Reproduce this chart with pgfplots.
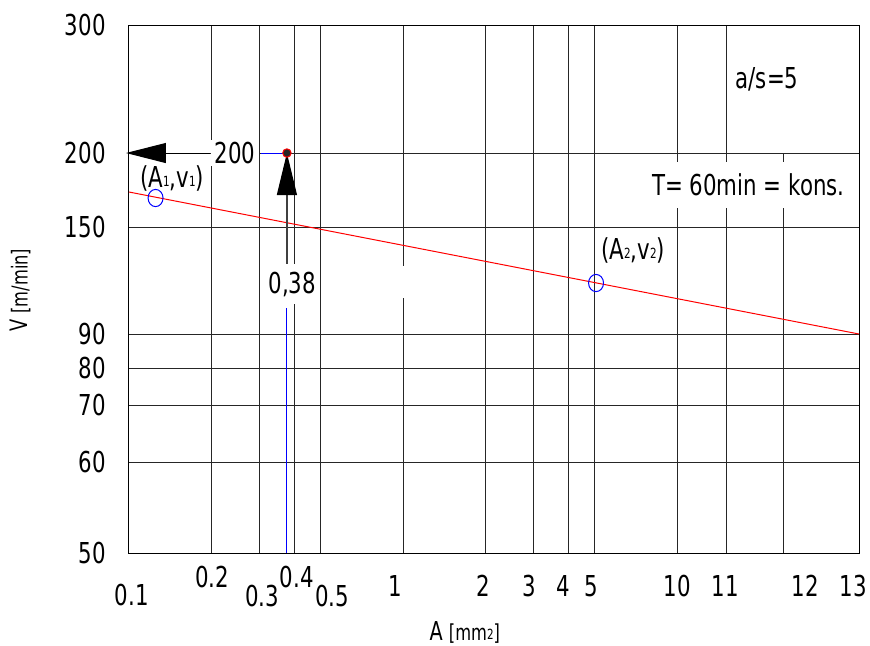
\documentclass[border=0pt]{standalone}
\usepackage{fontspec}
\setmainfont{DejaVu Sans}[FakeStretch=0.74]
\usepackage{pgfplots}
\pgfplotsset{compat=1.18}
\usetikzlibrary{arrows.meta}

\newcommand{\sub}[1]{\raisebox{0.5pt}{\fontsize{7}{8}\selectfont #1}}

% y runs in drawing units of the nomogram (its v scale is not regular)
\begin{document}
\begin{tikzpicture}[font=\fontsize{14.4}{16}\selectfont]
\begin{axis}[
  at={(64.5pt,-276.5pt)}, anchor=south west,
  scale only axis, width=365pt, height=264pt,
  xmode=log, xmin=0.1, xmax=46.1,
  ymin=0, ymax=528,
  clip=false,
  axis line style={black, line width=0.5pt},
  xtick={0.2,0.3,0.4,0.5,1,2,3,4,5,10,15.2},
  xticklabels={},
  ytick={0,91,148,185,219,326,400,528},
  yticklabels={50,60,70,80,90,150,200,300},
  yticklabel style={anchor=east, inner sep=0pt, xshift=-11.5pt},
  major tick length=0pt,
  grid=major,
  grid style={black!85, line width=0.5pt},
]
% partial grid line and the gap on the x=1 line
\draw[black!85, line width=0.5pt] (axis cs:24.4,0) -- (axis cs:24.4,400);
\fill[white] ([xshift=-2pt]axis cs:1,255) rectangle ([xshift=2pt]axis cs:1,287);

% T = const line
\addplot[red, line width=0.5pt] coordinates {(0.1,361) (46.1,219)};

% reading at A = 0.38
\addplot[blue, line width=0.5pt] coordinates {(0.377,0) (0.377,245)};
\addplot[blue, line width=0.5pt] coordinates {(0.303,400) (0.377,400)};
\addplot[black!75, line width=0.6pt, -{Triangle[length=21pt,width=10pt,color=black]}]
  coordinates {(0.377,288) (0.377,400)};
\addplot[black, line width=0.5pt, -{Triangle[length=20pt,width=10pt]}]
  coordinates {(0.1975,400) (0.0975,400)};

\addplot[only marks, blue, mark=o, mark size=4.3pt,
  mark options={xscale=0.87, fill=white, line width=0.5pt}]
  coordinates {(0.125,355) (5.06,270)};
\addplot[only marks, mark=*, mark size=2.1pt, mark options={draw=red, fill=black!85, line width=0.5pt}]
  coordinates {(0.377,400)};

% labels in the field
\node[fill=white, inner xsep=0pt, inner ysep=1pt, minimum width=24pt] at (axis cs:0.2436,400) {200};
\node[fill=white, inner xsep=1pt, inner ysep=4pt] at (axis cs:0.394,269) {0,38};
\node at (axis cs:0.1436,375) {(A\sub{1},v\sub{1})};
\node at (axis cs:6.91,303) {(A\sub{2},v\sub{2})};
\node at (axis cs:21.3,474) {a/s=5};
\node[fill=white, minimum width=108pt, minimum height=23pt, inner sep=0pt] at (axis cs:18.2,368) {T= 60min = kons.};

% x tick labels (staggered as in the drawing)
\node at (axis cs:0.1025,-42) {0.1};
\node at (axis cs:0.201,-24) {0.2};
\node at (axis cs:0.306,-43) {0.3};
\node at (axis cs:0.410,-24) {0.4};
\node at (axis cs:0.551,-43) {0.5};
\node at (axis cs:0.935,-33) {1};
\node at (axis cs:1.96,-33) {2};
\node at (axis cs:2.88,-33) {3};
\node at (axis cs:3.84,-33) {4};
\node at (axis cs:4.85,-33) {5};
\node at (axis cs:10,-33) {10};
\node at (axis cs:14.96,-33) {11};
\node at (axis cs:29.3,-33) {12};
\node at (axis cs:43.9,-33) {13};

% axis titles
\node[rotate=90, font=\fontsize{12}{14}\selectfont] at (axis description cs:-0.149,0.498)
  {V {\fontsize{11}{13}\selectfont[m/min]}};
\node[font=\fontsize{13}{15}\selectfont] at (axis description cs:0.46,-0.15)
  {A {\fontsize{11}{13}\selectfont[mm\sub{2}]}};
\end{axis}
\pgfresetboundingbox
\path[use as bounding box] (0,0) rectangle (435pt,-322.5pt);
\end{tikzpicture}
\end{document}
